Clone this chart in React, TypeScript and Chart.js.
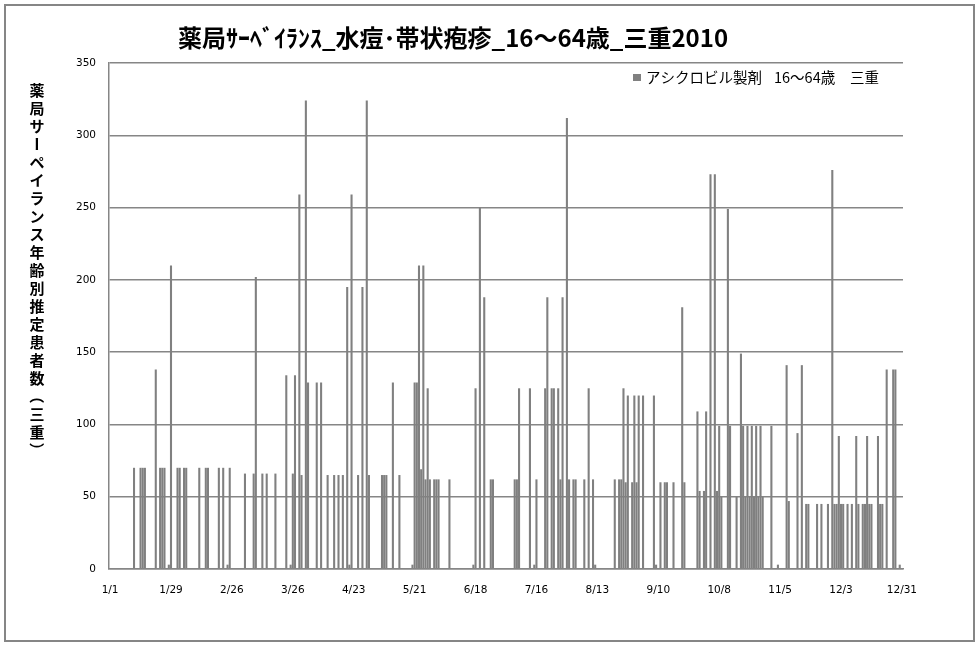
import { useEffect, useRef } from "react";
import { Chart, registerables } from "chart.js";

Chart.register(...registerables);

const TITLE = "薬局ｻｰﾍﾞｲﾗﾝｽ_水痘･帯状疱疹_16～64歳_三重2010";
const Y_TITLE = "薬局サーペイランス年齢別推定患者数（三重）";
const SERIES_NAME = "アシクロビル製剤  16～64歳　三重";

// x-axis tick labels shown (every 28 days)
const tickLabels = ["1/1", "1/29", "2/26", "3/26", "4/23", "5/21", "6/18", "7/16", "8/13", "9/10", "10/8", "11/5", "12/3", "12/31"];

// y-axis range
const yMin = 0;
const yMax = 350;
const yStep = 50;

// day-of-year index (0 = 1/1/2010) of each non-empty bar
const dayIndex = [
  11, 14, 15, 16, 21, 23, 24, 25, 27, 28,
  31, 32, 34, 35, 41, 44, 45, 50, 52, 54,
  55, 62, 66, 67, 70, 72, 76, 81, 83, 84,
  85, 87, 88, 90, 91, 95, 97, 100, 103, 105,
  107, 109, 110, 111, 114, 116, 118, 119, 125, 126,
  127, 130, 133, 139, 140, 141, 142, 143, 144, 145,
  146, 147, 149, 150, 151, 156, 167, 168, 170, 172,
  175, 176, 186, 187, 188, 193, 195, 196, 200, 201,
  203, 204, 206, 207, 208, 210, 211, 213, 214, 218,
  220, 222, 223, 232, 234, 235, 236, 237, 238, 240,
  241, 242, 243, 245, 250, 251, 253, 255, 256, 259,
  263, 264, 270, 271, 273, 274, 276, 278, 279, 280,
  281, 284, 285, 288, 290, 291, 292, 293, 294, 295,
  296, 297, 298, 299, 300, 304, 307, 311, 312, 316,
  318, 320, 321, 325, 327, 330, 332, 333, 334, 335,
  336, 337, 339, 341, 343, 344, 346, 347, 348, 349,
  350, 353, 354, 355, 357, 360, 361, 363,
];

// estimated patients for each of those days
const patients = [
  70, 70, 70, 70, 138, 70, 70, 70, 3, 210,
  70, 70, 70, 70, 70, 70, 70, 70, 70, 3,
  70, 66, 66, 202, 66, 66, 66, 134, 3, 66,
  134, 259, 65, 324, 129, 129, 129, 65, 65, 65,
  65, 195, 3, 259, 65, 195, 324, 65, 65, 65,
  65, 129, 65, 3, 129, 129, 210, 69, 210, 62,
  125, 62, 62, 62, 62, 62, 3, 125, 250, 188,
  62, 62, 62, 62, 125, 125, 3, 62, 125, 188,
  125, 125, 125, 62, 188, 312, 62, 62, 62, 62,
  125, 62, 3, 62, 62, 62, 125, 60, 120, 60,
  120, 60, 120, 120, 120, 3, 60, 60, 60, 60,
  181, 60, 109, 54, 54, 109, 273, 273, 54, 99,
  50, 249, 99, 50, 149, 99, 50, 99, 50, 99,
  50, 99, 50, 99, 50, 99, 3, 141, 47, 94,
  141, 45, 45, 45, 45, 45, 276, 45, 45, 92,
  45, 45, 45, 45, 92, 45, 45, 45, 92, 45,
  45, 92, 45, 45, 138, 138, 138, 3,
];

// all 365 days of 2010 as category labels
const categories: string[] = [];
for (let i = 0; i < 365; i++) {
  const d = new Date(2010, 0, 1 + i);
  categories.push(`${d.getMonth() + 1}/${d.getDate()}`);
}

const GRAY = "#868686";
const BAR = "#808080";

const decor = {
  id: "decor",
  beforeDraw(chart: any) {
    const ctx = chart.ctx;
    ctx.save();
    ctx.fillStyle = "#ffffff";
    ctx.fillRect(0, 0, chart.width, chart.height);
    ctx.strokeStyle = GRAY;
    ctx.lineWidth = 2;
    ctx.strokeRect(5, 5, 969, 636);
    ctx.restore();
  },
  afterDraw(chart: any) {
    const ctx = chart.ctx;
    ctx.save();
    ctx.fillStyle = "#000";
    // title
    ctx.font = 'bold 24px "Noto Sans CJK JP"';
    ctx.textAlign = "center";
    ctx.textBaseline = "middle";
    ctx.fillText(TITLE, 453, 38);
    // vertical y title
    ctx.font = 'bold 15px "Noto Sans CJK JP"';
    Array.from(Y_TITLE).forEach((ch, i) => {
      const y = 90 + i * 18;
      if ("ー（）".includes(ch)) {
        ctx.save();
        ctx.translate(37, y);
        ctx.rotate(Math.PI / 2);
        ctx.fillText(ch, 0, 0);
        ctx.restore();
      } else {
        ctx.fillText(ch, 37, y);
      }
    });
    // legend
    ctx.fillStyle = BAR;
    ctx.fillRect(633, 74, 8, 7);
    ctx.fillStyle = "#000";
    ctx.font = '14.5px "Noto Sans CJK JP"';
    ctx.textAlign = "left";
    const parts = SERIES_NAME.split(/\s+/);
    const xs = [646, 774, 850];
    parts.forEach((p, i) => ctx.fillText(p, xs[i], 77));
    ctx.restore();
  },
};

export default function App() {
  const ref = useRef<HTMLCanvasElement | null>(null);

  useEffect(() => {
    if (!ref.current) return;
    const data: (number | null)[] = categories.map(() => null);
    dayIndex.forEach((d, i) => {
      data[d] = patients[i];
    });

    const chart = new Chart(ref.current, {
      type: "bar",
      data: {
        labels: categories,
        datasets: [
          {
            label: SERIES_NAME,
            data,
            backgroundColor: BAR,
            borderWidth: 0,
            barPercentage: 0.96,
            categoryPercentage: 1.0,
          },
        ],
      },
      options: {
        animation: false,
        responsive: false,
        maintainAspectRatio: false,
        layout: { padding: { top: 63, right: 76, bottom: 0, left: 0 } },
        plugins: {
          legend: { display: false },
          tooltip: { enabled: false },
          title: { display: false },
        },
        scales: {
          x: {
            type: "category",
            offset: true,
            grid: { display: false, drawTicks: false },
            border: { display: true, color: GRAY, width: 1.5 },
            ticks: {
              autoSkip: false,
              maxRotation: 0,
              minRotation: 0,
              padding: 15,
              color: "#000",
              font: { family: "DejaVu Sans", size: 10.5 },
              callback: (_v: any, index: number) =>
                tickLabels.includes(categories[index]) ? categories[index] : "",
            },
            afterFit: (s: any) => {
              s.height = 77;
            },
          },
          y: {
            min: yMin,
            max: yMax,
            ticks: {
              stepSize: yStep,
              padding: 13,
              color: "#000",
              font: { family: "DejaVu Sans", size: 10.5 },
            },
            grid: { color: GRAY, lineWidth: 1.5, drawTicks: false },
            border: { display: true, color: GRAY, width: 1.5 },
            afterFit: (s: any) => {
              s.width = 109;
            },
          },
        },
      },
      plugins: [decor],
    });
    return () => chart.destroy();
  }, []);

  return (
    <div style={{ position: "absolute", left: 0, top: 0, width: 979, height: 646 }}>
      <canvas ref={ref} width={979} height={646} style={{ display: "block" }} />
    </div>
  );
}
